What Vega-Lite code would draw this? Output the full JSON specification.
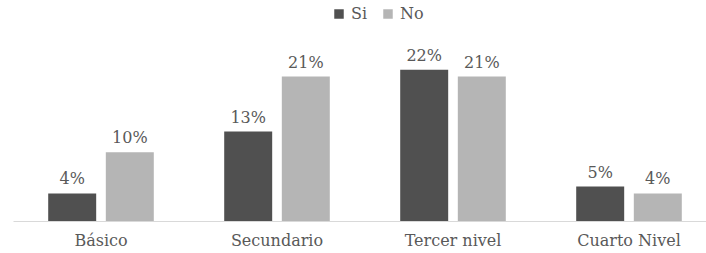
{
  "$schema": "https://vega.github.io/schema/vega-lite/v6.json",
  "autosize": "none",
  "width": 704,
  "height": 172,
  "padding": {"left": 13, "top": 49, "right": 0, "bottom": 32},
  "background": "white",
  "config": {"view": {"stroke": null}, "font": "DejaVu Serif"},
  "data": {"values": [
    {"nivel": "Básico", "serie": "Si", "valor": 0.04},
    {"nivel": "Básico", "serie": "No", "valor": 0.10},
    {"nivel": "Secundario", "serie": "Si", "valor": 0.13},
    {"nivel": "Secundario", "serie": "No", "valor": 0.21},
    {"nivel": "Tercer nivel", "serie": "Si", "valor": 0.22},
    {"nivel": "Tercer nivel", "serie": "No", "valor": 0.21},
    {"nivel": "Cuarto Nivel", "serie": "Si", "valor": 0.05},
    {"nivel": "Cuarto Nivel", "serie": "No", "valor": 0.04}
  ]},
  "encoding": {
    "x": {"field": "nivel", "type": "nominal", "sort": ["Básico", "Secundario", "Tercer nivel", "Cuarto Nivel"],
      "scale": {"paddingInner": 0.4, "paddingOuter": 0.2},
      "axis": {"title": null, "labelAngle": 0, "ticks": false, "domainColor": "#d9d9d9", "labelColor": "#595959", "labelFontSize": 16, "labelPadding": 11, "labelFont": "DejaVu Serif"}},
    "xOffset": {"field": "serie", "type": "nominal", "sort": ["Si", "No"], "scale": {"paddingInner": 0.167, "paddingOuter": 0}},
    "y": {"field": "valor", "type": "quantitative", "scale": {"domain": [0, 0.25]}, "axis": null}
  },
  "layer": [
    {"mark": {"type": "bar"},
     "encoding": {"color": {"field": "serie", "type": "nominal", "sort": ["Si", "No"],
       "scale": {"domain": ["Si", "No"], "range": ["#505050", "#b5b5b5"]},
       "legend": {"title": null, "orient": "none", "direction": "horizontal", "legendX": 318, "legendY": -43, "symbolType": "square", "symbolSize": 90, "labelFontSize": 16, "labelColor": "#595959", "labelFont": "DejaVu Serif", "columnPadding": 12, "symbolStrokeWidth": 0}}}},
    {"mark": {"type": "text", "dy": -14, "fontSize": 16, "color": "#595959", "font": "DejaVu Serif"},
     "encoding": {"text": {"field": "valor", "type": "quantitative", "format": ".0%"}}}
  ]
}
